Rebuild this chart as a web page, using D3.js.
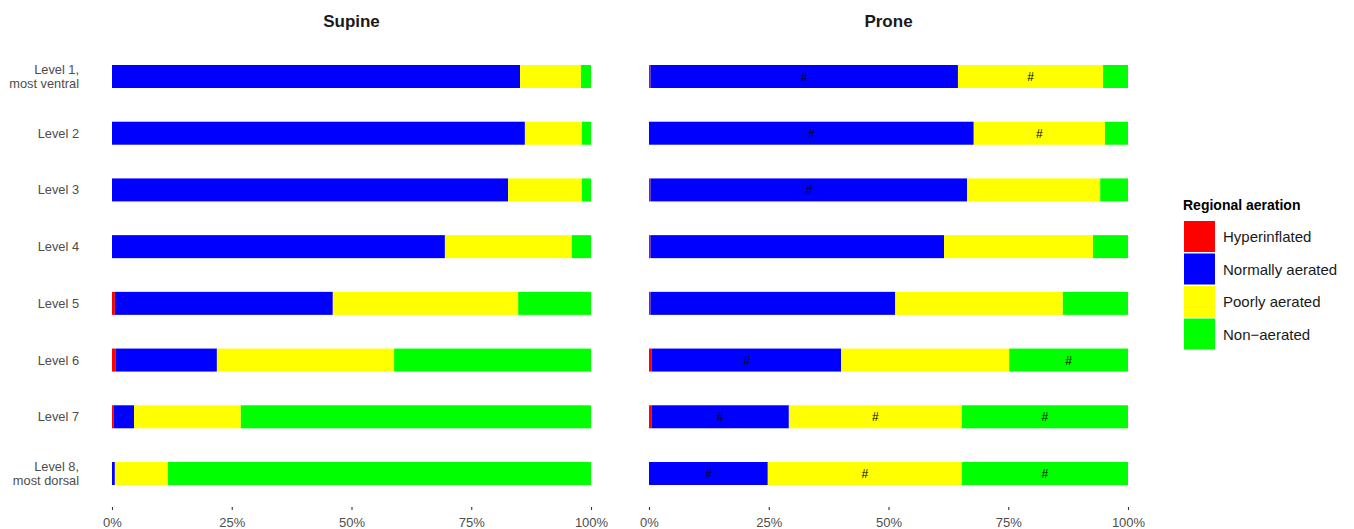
<!DOCTYPE html>
<html><head><meta charset="utf-8">
<script src="https://cdn.jsdelivr.net/npm/d3@7"></script>
<style>body{margin:0;background:#fff;font-family:"Liberation Sans",Arial,sans-serif}</style>
</head><body><svg id="c" width="1354" height="529"></svg>
<script>
const levels = ["Level 1,\nmost ventral","Level 2","Level 3","Level 4","Level 5","Level 6","Level 7","Level 8,\nmost dorsal"];
const seriesNames = ["Hyperinflated","Normally aerated","Poorly aerated","Non\u2212aerated"];
const seriesColors = ["#ff0000","#0000ff","#ffff00","#00ff00"];
const tickValues = [0,0.25,0.5,0.75,1];
const tickLabels = ["0%","25%","50%","75%","100%"];

const supineHyper  = [0,0,0,0,0.6,0.8,0.3,0];
const supineNormal = [85.2,86.2,82.7,69.5,45.5,21.1,4.3,0.6];
const supinePoor   = [12.7,11.9,15.4,26.5,38.7,37.0,22.3,11.1];
const supineNon    = [2.1,1.9,1.9,4.0,15.2,41.1,73.1,88.3];

const proneHyper  = [0.3,0,0.3,0.3,0.3,0.6,0.5,0];
const proneNormal = [64.2,67.8,66.1,61.3,51.1,39.5,28.7,24.8];
const pronePoor   = [30.3,27.4,27.8,31.1,35.0,35.1,36.1,40.5];
const proneNon    = [5.2,4.8,5.8,7.3,13.6,24.8,34.7,34.7];

// "#" significance markers (prone vs supine)
const markHyper  = [0,0,0,0,0,0,0,0];
const markNormal = [1,1,1,0,0,1,1,1];
const markPoor   = [1,1,0,0,0,0,1,1];
const markNon    = [0,0,0,0,0,1,1,1];

const svg = d3.select("#c");
const y = d3.scalePoint().domain(levels).range([76.5,473.5]);
const barH = 23;

const panels = [
  {title:"Supine", x0:112, x1:591, vals:[supineHyper,supineNormal,supinePoor,supineNon], marks:null},
  {title:"Prone", x0:649, x1:1128, vals:[proneHyper,proneNormal,pronePoor,proneNon], marks:[markHyper,markNormal,markPoor,markNon]}
];

panels.forEach(p=>{
  const x = d3.scaleLinear().domain([0,1]).range([p.x0,p.x1]);
  const rows = levels.map((lv,i)=>{
    const tot = p.vals.reduce((s,a)=>s+a[i],0);
    const r = {level:lv};
    seriesNames.forEach((s,k)=>r[s]=p.vals[k][i]/tot);
    return r;
  });
  const stacked = d3.stack().keys(seriesNames)(rows);
  const g = svg.append("g");
  stacked.forEach((layer,k)=>{
    g.selectAll(null).data(layer).join("rect")
      .attr("x",d=>x(d[0])).attr("width",d=>Math.max(0,x(d[1])-x(d[0])))
      .attr("y",d=>y(d.data.level)-barH/2).attr("height",barH)
      .attr("fill",seriesColors[k]);
  });
  if(p.marks){
    stacked.forEach((layer,k)=>{
      g.selectAll(null).data(layer.filter((d,i)=>p.marks[k][i])).join("text")
        .attr("x",d=>x((d[0]+d[1])/2)).attr("y",d=>y(d.data.level)+4.5)
        .attr("text-anchor","middle").attr("font-size",12).attr("fill","#000")
        .text("#");
    });
  }
  // title
  svg.append("text").attr("x",(p.x0+p.x1)/2).attr("y",27).attr("text-anchor","middle")
    .attr("font-size",17).attr("font-weight","bold").attr("fill","#1a1a1a").text(p.title);
  // x axis
  const ax = svg.append("g").attr("transform","translate(0,507)")
    .call(d3.axisBottom(x).tickValues(tickValues).tickFormat((d,i)=>tickLabels[i]).tickSize(3).tickPadding(8));
  ax.select(".domain").remove();
  ax.selectAll(".tick line").attr("stroke","#333").attr("stroke-width",1.1);
  ax.selectAll(".tick text").attr("fill","#4d4d4d").attr("font-size",13).attr("font-family","Liberation Sans, Arial, sans-serif");
});

// y axis labels
const yl = svg.append("g");
levels.forEach(lv=>{
  const lines = lv.split("\n");
  const t = yl.append("text").attr("text-anchor","end").attr("font-size",12.8).attr("fill","#4d4d4d");
  const lh = 14;
  const start = y(lv) + 4.5 - (lines.length-1)*lh/2;
  lines.forEach((ln,i)=>t.append("tspan").attr("x",79).attr("y",start+i*lh).text(ln));
});

// legend
const lg = svg.append("g");
lg.append("text").attr("x",1183).attr("y",210).attr("font-size",14).attr("font-weight","bold").attr("fill","#000").text("Regional aeration");
seriesNames.forEach((s,k)=>{
  const yy = 221 + k*32.5;
  lg.append("rect").attr("x",1184).attr("y",yy).attr("width",31).attr("height",31).attr("fill",seriesColors[k]);
  lg.append("text").attr("x",1223).attr("y",yy+21).attr("font-size",15).attr("fill","#1a1a1a").text(s);
});
</script></body></html>
